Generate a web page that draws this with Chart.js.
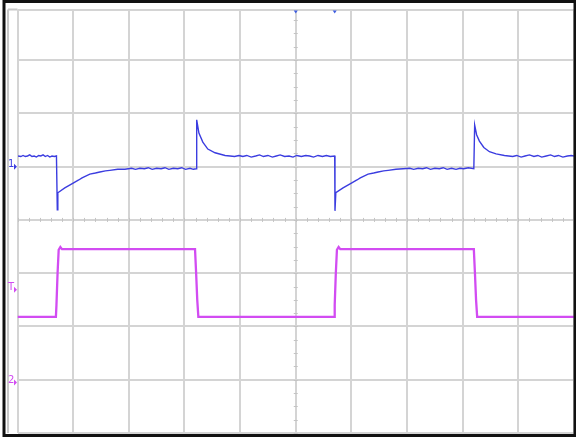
<!DOCTYPE html>
<html>
<head>
<meta charset="utf-8">
<script src="https://cdn.jsdelivr.net/npm/chart.js@4.4.1/dist/chart.umd.min.js"></script>
<style>
  html, body { margin: 0; padding: 0; background: #fff; }
  #wrap { width: 576px; height: 437px; }
</style>
</head>
<body>
<div id="wrap"><canvas id="scope"></canvas></div>
<script>
// time axis in divisions (10 across), amplitude in divisions (0 = centre line)
const ch1Time = [
  0.01, 0.06, 0.10, 0.14, 0.18, 0.22, 0.26, 0.30, 0.34, 0.38, 0.42, 0.46, 0.50, 0.54, 0.58, 0.62, 0.66, 0.70,
  0.715, 0.725, 0.85, 1.00, 1.10, 1.16, 1.30, 1.40, 1.48, 1.58, 1.66, 1.80, 1.93,
  2.05, 2.12, 2.20, 2.28, 2.35, 2.42, 2.50, 2.58, 2.65, 2.72, 2.80, 2.88, 2.95, 3.02, 3.10, 3.16, 3.21,
  3.22, 3.26, 3.33, 3.42, 3.55, 3.73, 3.82,
  3.90, 3.98, 4.05, 4.12, 4.20, 4.28, 4.35, 4.42, 4.50, 4.58, 4.65, 4.72, 4.80, 4.88, 4.95, 5.02, 5.10, 5.18, 5.25, 5.32, 5.40, 5.48, 5.55, 5.62, 5.70,
  5.705, 5.72, 5.85, 6.00, 6.10, 6.16, 6.30, 6.40, 6.48, 6.58, 6.66, 6.80, 6.93,
  7.05, 7.12, 7.20, 7.28, 7.35, 7.42, 7.50, 7.58, 7.65, 7.72, 7.80, 7.88, 7.95, 8.02, 8.10, 8.20,
  8.215, 8.25, 8.30, 8.38, 8.48, 8.60, 8.75,
  8.90, 8.97, 9.05, 9.12, 9.20, 9.28, 9.35, 9.42, 9.50, 9.58, 9.65, 9.72, 9.80, 9.88, 9.95, 10.0];
const ch1Volts = [
  1.20, 1.19, 1.21, 1.19, 1.20, 1.22, 1.19, 1.20, 1.18, 1.21, 1.20, 1.22, 1.19, 1.21, 1.18, 1.20, 1.19, 1.20,
  0.19, 0.51, 0.60, 0.69, 0.75, 0.79, 0.86, 0.88, 0.90, 0.92, 0.93, 0.95, 0.95,
  0.97, 0.95, 0.97, 0.96, 0.98, 0.95, 0.97, 0.96, 0.98, 0.95, 0.97, 0.96, 0.98, 0.95, 0.97, 0.95, 0.96,
  1.88, 1.63, 1.46, 1.33, 1.26, 1.21, 1.20,
  1.19, 1.21, 1.19, 1.21, 1.18, 1.20, 1.22, 1.19, 1.21, 1.18, 1.20, 1.22, 1.19, 1.20, 1.18, 1.21, 1.19, 1.21, 1.20, 1.18, 1.21, 1.19, 1.21, 1.19, 1.20,
  0.17, 0.51, 0.60, 0.69, 0.75, 0.79, 0.86, 0.88, 0.90, 0.92, 0.93, 0.95, 0.96,
  0.97, 0.95, 0.97, 0.96, 0.98, 0.95, 0.97, 0.96, 0.98, 0.95, 0.97, 0.95, 0.97, 0.96, 0.98, 0.96,
  1.78, 1.60, 1.48, 1.36, 1.28, 1.24, 1.21,
  1.19, 1.21, 1.18, 1.20, 1.22, 1.19, 1.21, 1.18, 1.20, 1.22, 1.19, 1.21, 1.18, 1.20, 1.21, 1.20];

const ch2Time = [0, 0.69, 0.70, 0.72, 0.74, 0.77, 0.80, 3.19, 3.21, 3.23, 3.25,
  5.69, 5.70, 5.72, 5.74, 5.77, 5.80, 8.20, 8.22, 8.24, 8.26, 10.0];
const ch2Volts = [-1.82, -1.82, -1.60, -1.00, -0.56, -0.51, -0.55, -0.55, -1.00, -1.50, -1.82,
  -1.82, -1.60, -1.00, -0.56, -0.51, -0.55, -0.55, -1.00, -1.50, -1.82, -1.82];

const xGrid = [0, 1, 2, 3, 4, 5, 6, 7, 8, 9, 10];
const yGrid = [-4, -3, -2, -1, 0, 1, 2, 3, 3.95];

// channel markers on the left edge: label, level, colour
const markers = [
  { text: '1', level: 1.0, color: '#3b3de0' },
  { text: 'T', level: -1.31, color: '#d24cf2' },
  { text: '2', level: -3.05, color: '#d24cf2' }
];

const toPoints = (xs, ys) => xs.map((x, i) => ({ x: x, y: ys[i] }));

const scopeFrame = {
  id: 'scopeFrame',
  beforeDraw(chart) {
    const ctx = chart.ctx;
    const a = chart.chartArea;
    ctx.save();
    ctx.fillStyle = '#fff';
    ctx.fillRect(0, 0, chart.width, chart.height);
    // grey strip on the left
    ctx.strokeStyle = '#c8c8c8';
    ctx.lineWidth = 2;
    ctx.beginPath();
    ctx.moveTo(8, a.top);
    ctx.lineTo(8, a.bottom);
    ctx.moveTo(8, a.top);
    ctx.lineTo(a.left, a.top);
    ctx.stroke();
    ctx.restore();
  },
  afterDatasetsDraw(chart) {
    const ctx = chart.ctx;
    const xs = chart.scales.x, ys = chart.scales.y;
    const a = chart.chartArea;
    ctx.save();
    // minor ticks on the centre lines
    ctx.strokeStyle = '#c4c4c4';
    ctx.lineWidth = 1;
    ctx.beginPath();
    const cy = ys.getPixelForValue(0);
    for (let t = 0; t <= 10; t += 0.2) {
      const px = Math.round(xs.getPixelForValue(t)) + 0.5;
      ctx.moveTo(px, cy - 2);
      ctx.lineTo(px, cy + 2);
    }
    const cx = xs.getPixelForValue(5);
    for (let v = -4; v <= 3.95; v += 0.25) {
      const py = Math.round(ys.getPixelForValue(v)) + 0.5;
      ctx.moveTo(cx - 2, py);
      ctx.lineTo(cx + 2, py);
    }
    ctx.stroke();
    // trigger position marks at the top
    ctx.fillStyle = '#3b5be0';
    [5, 5.7].forEach(t => {
      const px = xs.getPixelForValue(t);
      ctx.beginPath();
      ctx.moveTo(px - 2, a.top + 1);
      ctx.lineTo(px + 2, a.top + 1);
      ctx.lineTo(px, a.top + 4);
      ctx.closePath();
      ctx.fill();
    });
    // channel markers
    ctx.font = '10px "DejaVu Sans"';
    ctx.textBaseline = 'middle';
    markers.forEach(m => {
      const py = ys.getPixelForValue(m.level);
      ctx.fillStyle = m.color;
      ctx.fillText(m.text, 8, py - 2);
      ctx.beginPath();
      ctx.moveTo(14, py - 3);
      ctx.lineTo(17, py);
      ctx.lineTo(14, py + 3);
      ctx.closePath();
      ctx.fill();
    });
    // outer black frame
    ctx.strokeStyle = '#111';
    ctx.lineWidth = 3;
    ctx.strokeRect(4, 1.5, 571, 434);
    ctx.restore();
  }
};

new Chart(document.getElementById('scope'), {
  type: 'scatter',
  data: {
    datasets: [
      {
        label: 'CH1',
        data: toPoints(ch1Time, ch1Volts),
        showLine: true,
        borderColor: '#3b3de0',
        borderWidth: 1.4,
        pointRadius: 0,
        tension: 0
      },
      {
        label: 'CH2',
        data: toPoints(ch2Time, ch2Volts),
        showLine: true,
        borderColor: '#d24cf2',
        borderWidth: 2.3,
        pointRadius: 0,
        tension: 0
      }
    ]
  },
  options: {
    responsive: true,
    maintainAspectRatio: false,
    animation: false,
    layout: { padding: { left: 17.5, right: 2, top: 9.5, bottom: 4 } },
    plugins: {
      legend: { display: false },
      tooltip: { enabled: false }
    },
    scales: {
      x: {
        type: 'linear',
        min: 0,
        max: 10,
        afterBuildTicks: s => { s.ticks = xGrid.map(v => ({ value: v })); },
        ticks: { display: false },
        grid: { color: '#d4d4d4', lineWidth: 2, drawTicks: false },
        border: { display: false }
      },
      y: {
        type: 'linear',
        min: -4,
        max: 3.95,
        afterBuildTicks: s => { s.ticks = yGrid.map(v => ({ value: v })); },
        ticks: { display: false },
        grid: { color: '#d4d4d4', lineWidth: 2, drawTicks: false },
        border: { display: false }
      }
    }
  },
  plugins: [scopeFrame]
});
</script>
</body>
</html>
